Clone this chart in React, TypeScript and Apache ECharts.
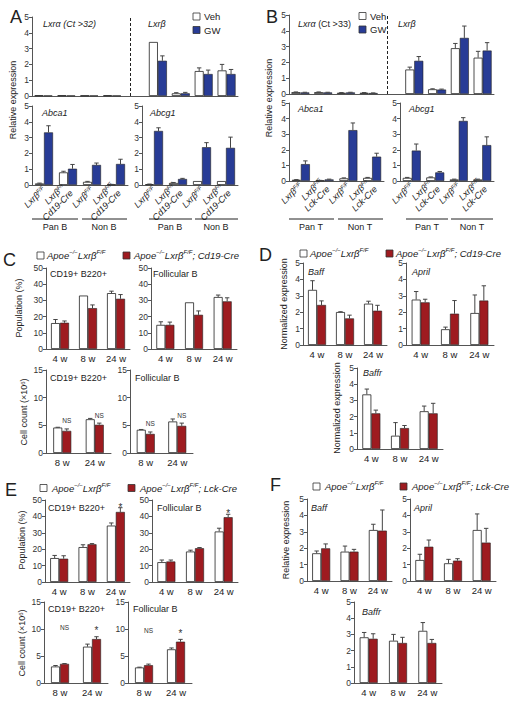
import React, { useEffect, useRef } from 'react';
import * as echarts from 'echarts';

const FONT = '"Liberation Sans", Arial, Helvetica, sans-serif';
const BLUE = '#283c96';
const RED = '#9e1b20';
const INK = '#222';

// ---------- Panel A (B cells, Veh vs GW) ----------
const aTopCats = ['Lxrα Pan B F/F', 'Lxrα Pan B Cd19-Cre', 'Lxrα Non B F/F', 'Lxrα Non B Cd19-Cre', '·', 'Lxrβ Pan B F/F', 'Lxrβ Pan B Cd19-Cre', 'Lxrβ Non B F/F', 'Lxrβ Non B Cd19-Cre'];
const aLxrVeh = [0.04, 0.04, 0.03, 0.04, null, 3.42, 0.17, 1.58, 1.62];
const aLxrVehErr = [0, 0, 0, 0, null, 0, 0.04, 0.2, 0.38];
const aLxrGw = [0.03, 0.03, 0.03, 0.03, null, 2.23, 0.17, 1.39, 1.39];
const aLxrGwErr = [0, 0, 0, 0, null, 0.31, 0.06, 0.25, 0.29];
const aBotCats = ['Lxrβ F/F|Pan B', 'Lxrβ F/F Cd19-Cre|Pan B', 'Lxrβ F/F|Non B', 'Lxrβ F/F Cd19-Cre|Non B'];
const aAbca1Veh = [0.1, 0.8, 0.2, 0.03];
const aAbca1VehErr = [0.02, 0.07, 0.03, 0.01];
const aAbca1Gw = [3.33, 1.03, 1.27, 1.33];
const aAbca1GwErr = [0.42, 0.27, 0.12, 0.3];
const aAbcg1Veh = [0.05, 0.13, 0.25, 0.25];
const aAbcg1VehErr = [0.01, 0.03, 0, 0];
const aAbcg1Gw = [3.42, 0.38, 2.39, 2.35];
const aAbcg1GwErr = [0.2, 0.04, 0.29, 0.68];

// ---------- Panel B (T cells, Veh vs GW) ----------
const bTopCats = ['Lxrα Pan T F/F', 'Lxrα Pan T Lck-Cre', 'Lxrα Non T F/F', 'Lxrα Non T Lck-Cre', '·', 'Lxrβ Pan T F/F', 'Lxrβ Pan T Lck-Cre', 'Lxrβ Non T F/F', 'Lxrβ Non T Lck-Cre'];
const bLxrVeh = [0.12, 0.12, 0.08, 0.08, null, 1.55, 0.3, 2.9, 2.3];
const bLxrVehErr = [0.01, 0.01, 0.01, 0.01, null, 0.15, 0.03, 0.3, 0.4];
const bLxrGw = [0.1, 0.1, 0.1, 0.06, null, 2.1, 0.28, 3.55, 2.75];
const bLxrGwErr = [0.01, 0.01, 0.01, 0.01, null, 0.27, 0.03, 0.75, 0.5];
const bBotCats = ['Lxrβ F/F|Pan T', 'Lxrβ F/F Lck-Cre|Pan T', 'Lxrβ F/F|Non T', 'Lxrβ F/F Lck-Cre|Non T'];
const bAbca1Veh = [0.08, 0.03, 0.17, 0.2];
const bAbca1VehErr = [0.01, 0.01, 0.03, 0.03];
const bAbca1Gw = [1.08, 0.1, 3.26, 1.56];
const bAbca1GwErr = [0.21, 0.02, 0.46, 0.22];
const bAbcg1Veh = [0.2, 0.23, 0.1, 0.1];
const bAbcg1VehErr = [0.03, 0.03, 0.02, 0.02];
const bAbcg1Gw = [1.95, 0.55, 3.85, 2.3];
const bAbcg1GwErr = [0.42, 0.06, 0.21, 0.53];

// ---------- Shared tick categories ----------
const weeks3 = ['4 w', '8 w', '24 w'];
const weeks2 = ['8 w', '24 w'];

// ---------- Panel C (Cd19-Cre, B cells) ----------
const cPopCdVeh = [16, 33, 34.5];
const cPopCdVehErr = [2.2, 0, 1.2];
const cPopCdCre = [16.2, 25.2, 31];
const cPopCdCreErr = [1.1, 2, 2.6];
const cPopFoVeh = [14.9, 28.8, 32.1];
const cPopFoVehErr = [1.9, 0, 1.2];
const cPopFoCre = [14.9, 21.1, 29.4];
const cPopFoCreErr = [1.7, 2.4, 2.2];
const cCntCdVeh = [4.6, 6.1];
const cCntCdVehErr = [0.05, 0.15];
const cCntCdCre = [4.0, 5.1];
const cCntCdCreErr = [0.35, 0.3];
const cCntFoVeh = [4.2, 5.7];
const cCntFoVehErr = [0.05, 0.45];
const cCntFoCre = [3.45, 4.9];
const cCntFoCreErr = [0.35, 0.5];
const cCntAnnot = ['NS', 'NS'];

// ---------- Panel D (Cd19-Cre, cytokines) ----------
const dBaffVeh = [3.36, 2.01, 2.52];
const dBaffVehErr = [0.56, 0.02, 0.15];
const dBaffCre = [2.44, 1.62, 2.09];
const dBaffCreErr = [0.25, 0.2, 0.33];
const dAprilVeh = [2.77, 0.96, 1.95];
const dAprilVehErr = [0.49, 0.13, 1.1];
const dAprilCre = [2.6, 1.91, 2.71];
const dAprilCreErr = [0.19, 0.8, 0.9];
const dBaffrVeh = [3.37, 0.82, 2.33];
const dBaffrVehErr = [0.33, 0.81, 0.32];
const dBaffrCre = [2.2, 1.29, 2.2];
const dBaffrCreErr = [0.2, 0.16, 0.62];

// ---------- Panel E (Lck-Cre, B cells) ----------
const ePopCdVeh = [14.6, 21.3, 34.4];
const ePopCdVehErr = [1.6, 1.4, 1.6];
const ePopCdCre = [14.2, 23.0, 42.7];
const ePopCdCreErr = [1.8, 0.4, 2.6];
const ePopFoVeh = [12.1, 18.6, 30.8];
const ePopFoVehErr = [1.3, 0.8, 2.0];
const ePopFoCre = [12.5, 20.6, 39.5];
const ePopFoCreErr = [0.9, 0.4, 1.8];
const ePopAnnot = [null, null, '*'];
const eCntCdVeh = [3.06, 6.73];
const eCntCdVehErr = [0.18, 0.47];
const eCntCdCre = [3.55, 8.14];
const eCntCdCreErr = [0.05, 0.43];
const eCntFoVeh = [2.88, 6.24];
const eCntFoVehErr = [0.05, 0.25];
const eCntFoCre = [3.3, 7.65];
const eCntFoCreErr = [0.2, 0.43];
const eCntAnnot = ['NS', '*'];

// ---------- Panel F (Lck-Cre, cytokines) ----------
const fBaffVeh = [1.69, 1.79, 3.11];
const fBaffVehErr = [0.14, 0.34, 0.35];
const fBaffCre = [1.99, 1.79, 3.07];
const fBaffCreErr = [0.27, 0.14, 1.26];
const fAprilVeh = [1.28, 1.08, 3.11];
const fAprilVehErr = [0.35, 0.24, 0.98];
const fAprilCre = [2.09, 1.24, 2.34];
const fAprilCreErr = [0.41, 0.12, 0.87];
const fBaffrVeh = [2.82, 2.61, 3.22];
const fBaffrVehErr = [0.3, 0.39, 0.51];
const fBaffrCre = [2.73, 2.47, 2.47];
const fBaffrCreErr = [0.31, 0.35, 0.22];

type Num = number | null;
type Panel = {
  grid: { left: number; top: number; width: number; height: number };
  cats: string[];
  max: number;
  interval: number;
  veh: Num[];
  vehErr: Num[];
  trt: Num[];
  trtErr: Num[];
  color: string;
  labels: 'none' | 'rot' | 'plain';
  gap?: boolean;
  annot?: (string | null)[];
  annotMode?: 'own' | 'max';
  annotGap?: number;
};

const panels: Panel[] = [
  { grid: { left: 32, top: 17, width: 206, height: 79 }, cats: aTopCats, max: 5, interval: 1, veh: aLxrVeh, vehErr: aLxrVehErr, trt: aLxrGw, trtErr: aLxrGwErr, color: BLUE, labels: 'none', gap: true },
  { grid: { left: 32, top: 106, width: 96, height: 79 }, cats: aBotCats, max: 5, interval: 1, veh: aAbca1Veh, vehErr: aAbca1VehErr, trt: aAbca1Gw, trtErr: aAbca1GwErr, color: BLUE, labels: 'rot' },
  { grid: { left: 142, top: 106, width: 96, height: 79 }, cats: aBotCats, max: 5, interval: 1, veh: aAbcg1Veh, vehErr: aAbcg1VehErr, trt: aAbcg1Gw, trtErr: aAbcg1GwErr, color: BLUE, labels: 'rot' },
  { grid: { left: 289, top: 15, width: 205, height: 79 }, cats: bTopCats, max: 5, interval: 1, veh: bLxrVeh, vehErr: bLxrVehErr, trt: bLxrGw, trtErr: bLxrGwErr, color: BLUE, labels: 'none', gap: true },
  { grid: { left: 289, top: 103, width: 95, height: 78 }, cats: bBotCats, max: 5, interval: 1, veh: bAbca1Veh, vehErr: bAbca1VehErr, trt: bAbca1Gw, trtErr: bAbca1GwErr, color: BLUE, labels: 'rot' },
  { grid: { left: 400, top: 103, width: 94, height: 78 }, cats: bBotCats, max: 5, interval: 1, veh: bAbcg1Veh, vehErr: bAbcg1VehErr, trt: bAbcg1Gw, trtErr: bAbcg1GwErr, color: BLUE, labels: 'rot' },

  { grid: { left: 46, top: 268, width: 84, height: 81 }, cats: weeks3, max: 50, interval: 10, veh: cPopCdVeh, vehErr: cPopCdVehErr, trt: cPopCdCre, trtErr: cPopCdCreErr, color: RED, labels: 'plain' },
  { grid: { left: 151, top: 268, width: 86, height: 81 }, cats: weeks3, max: 50, interval: 10, veh: cPopFoVeh, vehErr: cPopFoVehErr, trt: cPopFoCre, trtErr: cPopFoCreErr, color: RED, labels: 'plain' },
  { grid: { left: 46, top: 370, width: 65, height: 83 }, cats: weeks2, max: 15, interval: 5, veh: cCntCdVeh, vehErr: cCntCdVehErr, trt: cCntCdCre, trtErr: cCntCdCreErr, color: RED, labels: 'plain', annot: cCntAnnot, annotMode: 'own', annotGap: 8 },
  { grid: { left: 130, top: 370, width: 63, height: 83 }, cats: weeks2, max: 15, interval: 5, veh: cCntFoVeh, vehErr: cCntFoVehErr, trt: cCntFoCre, trtErr: cCntFoCreErr, color: RED, labels: 'plain', annot: cCntAnnot, annotMode: 'own', annotGap: 8 },

  { grid: { left: 303, top: 263, width: 84, height: 82 }, cats: weeks3, max: 5, interval: 1, veh: dBaffVeh, vehErr: dBaffVehErr, trt: dBaffCre, trtErr: dBaffCreErr, color: RED, labels: 'plain' },
  { grid: { left: 406, top: 263, width: 88, height: 82 }, cats: weeks3, max: 5, interval: 1, veh: dAprilVeh, vehErr: dAprilVehErr, trt: dAprilCre, trtErr: dAprilCreErr, color: RED, labels: 'plain' },
  { grid: { left: 357, top: 368, width: 86, height: 81 }, cats: weeks3, max: 5, interval: 1, veh: dBaffrVeh, vehErr: dBaffrVehErr, trt: dBaffrCre, trtErr: dBaffrCreErr, color: RED, labels: 'plain' },

  { grid: { left: 45, top: 500, width: 85, height: 82 }, cats: weeks3, max: 50, interval: 10, veh: ePopCdVeh, vehErr: ePopCdVehErr, trt: ePopCdCre, trtErr: ePopCdCreErr, color: RED, labels: 'plain', annot: ePopAnnot, annotMode: 'own', annotGap: 3 },
  { grid: { left: 152, top: 500, width: 86, height: 82 }, cats: weeks3, max: 50, interval: 10, veh: ePopFoVeh, vehErr: ePopFoVehErr, trt: ePopFoCre, trtErr: ePopFoCreErr, color: RED, labels: 'plain', annot: ePopAnnot, annotMode: 'own', annotGap: 3 },
  { grid: { left: 44, top: 602, width: 64, height: 81 }, cats: weeks2, max: 15, interval: 5, veh: eCntCdVeh, vehErr: eCntCdVehErr, trt: eCntCdCre, trtErr: eCntCdCreErr, color: RED, labels: 'plain', annot: eCntAnnot, annotMode: 'max', annotGap: 9 },
  { grid: { left: 128, top: 602, width: 64, height: 81 }, cats: weeks2, max: 15, interval: 5, veh: eCntFoVeh, vehErr: eCntFoVehErr, trt: eCntFoCre, trtErr: eCntFoCreErr, color: RED, labels: 'plain', annot: eCntAnnot, annotMode: 'max', annotGap: 9 },

  { grid: { left: 307, top: 499, width: 85, height: 82 }, cats: weeks3, max: 5, interval: 1, veh: fBaffVeh, vehErr: fBaffVehErr, trt: fBaffCre, trtErr: fBaffCreErr, color: RED, labels: 'plain' },
  { grid: { left: 410, top: 499, width: 86, height: 82 }, cats: weeks3, max: 5, interval: 1, veh: fAprilVeh, vehErr: fAprilVehErr, trt: fAprilCre, trtErr: fAprilCreErr, color: RED, labels: 'plain' },
  { grid: { left: 354, top: 602, width: 88, height: 81 }, cats: weeks3, max: 5, interval: 1, veh: fBaffrVeh, vehErr: fBaffrVehErr, trt: fBaffrCre, trtErr: fBaffrCreErr, color: RED, labels: 'plain' },
];

const BAR_W = 9;

const richLbl = {
  i: { fontStyle: 'italic', fontSize: 9, fontFamily: FONT, color: INK, lineHeight: 10 },
  s: { fontStyle: 'italic', fontSize: 5.5, fontFamily: FONT, color: INK, verticalAlign: 'top', lineHeight: 6 },
};

function rotLabel(v: string) {
  const name = v.split('|')[0];
  if (name.indexOf('Cre') >= 0) {
    const cre = name.indexOf('Lck') >= 0 ? 'Lck-Cre' : 'Cd19-Cre';
    return '{i|Lxrβ}{s|F/F}\n{i|' + cre + '}';
  }
  return '{i|Lxrβ}{s|F/F}';
}

function errSeries(i: number, p: Panel, vals: Num[], errs: Num[], side: number, annot?: (string | null)[]) {
  let maxTop = 0;
  vals.forEach((v, k) => {
    if (v != null) maxTop = Math.max(maxTop, v + (errs[k] || 0));
  });
  const data = vals.map((v, k) => [k, v == null ? 0 : v, errs[k] == null ? 0 : (errs[k] as number)]);
  return {
    type: 'custom',
    xAxisIndex: i,
    yAxisIndex: i,
    z: 5,
    silent: true,
    data,
    encode: { x: 0, y: 1 },
    renderItem: (params: any, api: any) => {
      const idx = params.dataIndex;
      if (vals[idx] == null) return null;
      const k = api.value(0);
      const v = api.value(1);
      const e = api.value(2);
      const base = api.coord([k, v]);
      const top = api.coord([k, v + e]);
      const x = base[0] + (side * BAR_W) / 2;
      const children: any[] = [];
      if (e > 0) {
        children.push({ type: 'line', shape: { x1: x, y1: base[1], x2: x, y2: top[1] }, style: { stroke: '#444', lineWidth: 1 } });
        children.push({ type: 'line', shape: { x1: x - 2.2, y1: top[1], x2: x + 2.2, y2: top[1] }, style: { stroke: '#444', lineWidth: 1 } });
      }
      const a = annot ? annot[idx] : null;
      if (a) {
        const refY = p.annotMode === 'max' ? api.coord([k, maxTop])[1] : top[1];
        const star = a === '*';
        const y = refY - (p.annotGap || 6) + (star ? 2.7 : 0);
        children.push({
          type: 'text',
          x,
          y,
          style: {
            text: a, fill: '#333', fontSize: star ? 10 : 6.5, fontFamily: FONT,
            align: 'center', verticalAlign: 'middle', textAlign: 'center', textVerticalAlign: 'middle',
          },
        });
      }
      return { type: 'group', children };
    },
  };
}

function buildOption() {
  const grid: any[] = [];
  const xAxis: any[] = [];
  const yAxis: any[] = [];
  const series: any[] = [];
  panels.forEach((p, i) => {
    grid.push({ ...p.grid, containLabel: false });
    let axisLabel: any;
    if (p.labels === 'none') axisLabel = { show: false };
    else if (p.labels === 'rot') axisLabel = { show: true, rotate: 45, margin: 3, interval: 0, formatter: rotLabel, rich: richLbl, fontSize: 9, fontFamily: FONT, color: INK };
    else axisLabel = { show: true, margin: 4, interval: 0, fontSize: 9.5, fontFamily: FONT, color: INK };
    xAxis.push({
      type: 'category', gridIndex: i, data: p.cats,
      axisLine: { show: true, lineStyle: { color: '#555', width: 1 } },
      axisTick: { show: false }, axisLabel, splitLine: { show: false },
    });
    yAxis.push({
      type: 'value', gridIndex: i, min: 0, max: p.max, interval: p.interval,
      axisLine: { show: true, lineStyle: { color: '#555', width: 1 } },
      axisTick: { show: true, length: 3, lineStyle: { color: '#555' } },
      axisLabel: { fontSize: 8.5, color: '#333', margin: 3, fontFamily: FONT },
      splitLine: { show: false },
    });
    const vehBar: any = {
      type: 'bar', xAxisIndex: i, yAxisIndex: i, data: p.veh, barWidth: BAR_W, barGap: '0%', silent: true,
      itemStyle: { color: '#fff', borderColor: '#222', borderWidth: 0.8 },
    };
    if (p.gap) {
      vehBar.markLine = {
        silent: true, symbol: 'none', label: { show: false },
        lineStyle: { type: [3, 2], color: '#222', width: 1 },
        data: [{ xAxis: '·' }],
      };
    }
    series.push(vehBar);
    series.push({
      type: 'bar', xAxisIndex: i, yAxisIndex: i, data: p.trt, barWidth: BAR_W, barGap: '0%', silent: true,
      itemStyle: { color: p.color, borderColor: '#222', borderWidth: 0.6 },
    });
    series.push(errSeries(i, p, p.veh, p.vehErr, -1));
    series.push(errSeries(i, p, p.trt, p.trtErr, 1, p.annot));
  });

  const richT = {
    i: { fontStyle: 'italic', fontSize: 9.5, fontFamily: FONT, color: INK, lineHeight: 13 },
    n: { fontStyle: 'normal', fontSize: 9.5, fontFamily: FONT, color: INK, lineHeight: 13 },
    s: { fontStyle: 'italic', fontSize: 6, fontFamily: FONT, color: INK, verticalAlign: 'top', lineHeight: 7 },
    ns: { fontStyle: 'normal', fontSize: 6, fontFamily: FONT, color: INK, verticalAlign: 'top', lineHeight: 7 },
  };
  const txt = (x: number, y: number, text: string, o: any = {}) => ({
    type: 'text', x, y, rotation: o.rot || 0, silent: true,
    style: {
      text, fill: INK, fontSize: o.size || 9, fontFamily: FONT, fontStyle: o.italic ? 'italic' : 'normal',
      align: o.align || 'left', verticalAlign: 'middle', textAlign: o.align || 'left', textVerticalAlign: 'middle',
      rich: o.rich,
    },
  });
  const box = (x: number, y: number, fill: string) => ({
    type: 'rect', silent: true, shape: { x, y, width: 7, height: 7 },
    style: { fill, stroke: '#333', lineWidth: 0.8 },
  });
  const hline = (x1: number, x2: number, y: number) => ({
    type: 'line', silent: true, shape: { x1, y1: y, x2, y2: y }, style: { stroke: INK, lineWidth: 1 },
  });
  const ctrl = '{i|Apoe}{s|−/−}{i|Lxrβ}{s|F/F}';
  const cre = (c: string) => '{i|Apoe}{s|−/−}{i|Lxrβ}{s|F/F}{i|; ' + c + '}';
  const rot = Math.PI / 2;

  const graphic: any[] = [
    // panel letters
    txt(10, 16.5, 'A', { size: 18 }),
    txt(266, 16.5, 'B', { size: 18 }),
    txt(3, 260, 'C', { size: 18 }),
    txt(259, 254.5, 'D', { size: 18 }),
    txt(5, 490, 'E', { size: 18 }),
    txt(270, 484.5, 'F', { size: 18 }),
    // legends A / B
    box(193, 13, '#fff'), txt(204, 16.5, 'Veh', { size: 9.5 }),
    box(193, 26.5, BLUE), txt(204, 30, 'GW', { size: 9.5 }),
    box(359, 12.5, '#fff'), txt(370, 16, 'Veh', { size: 9.5 }),
    box(359, 26, BLUE), txt(370, 29.5, 'GW', { size: 9.5 }),
    // gene titles A
    txt(43, 24, 'Lxrα (Ct >32)', { italic: true }),
    txt(148, 24, 'Lxrβ', { italic: true }),
    txt(42, 113, 'Abca1', { italic: true }),
    txt(150, 113, 'Abcg1', { italic: true }),
    // gene titles B
    txt(298, 24, '{i9|Lxrα} (Ct >33)', { rich: { i9: { fontStyle: 'italic', fontSize: 9, fontFamily: FONT, color: INK } } }),
    txt(398, 24, 'Lxrβ', { italic: true }),
    txt(298, 109, 'Abca1', { italic: true }),
    txt(409, 109, 'Abcg1', { italic: true }),
    // group brackets A
    hline(32, 78, 219), hline(82, 127, 219), hline(149, 192, 219), hline(195, 238, 219),
    txt(55, 227, 'Pan B', { align: 'center' }), txt(104, 227, 'Non B', { align: 'center' }),
    txt(170, 227, 'Pan B', { align: 'center' }), txt(216, 227, 'Non B', { align: 'center' }),
    // group brackets B
    hline(289, 334, 219), hline(338, 383, 219), hline(406, 448, 219), hline(451, 493, 219),
    txt(311, 227, 'Pan T', { align: 'center' }), txt(360, 227, 'Non T', { align: 'center' }),
    txt(427, 227, 'Pan T', { align: 'center' }), txt(472, 227, 'Non T', { align: 'center' }),
    // y titles A, B
    txt(13, 100, 'Relative expression', { rot, align: 'center' }),
    txt(269, 98, 'Relative expression', { rot, align: 'center' }),
    // legend C
    box(37, 252, '#fff'), txt(47, 255.5, ctrl, { rich: richT }),
    box(123, 252, RED), txt(134, 255.5, cre('Cd19-Cre'), { rich: richT }),
    txt(50, 274, 'CD19+ B220+'), txt(153, 274, 'Follicular B'),
    txt(50, 378, 'CD19+ B220+'), txt(135, 378, 'Follicular B'),
    txt(19, 308, 'Population (%)', { rot, align: 'center' }),
    txt(24, 412, 'Cell count (×10{n6|6})', { rot, align: 'center', rich: { n6: { fontSize: 6, fontFamily: FONT, color: INK, verticalAlign: 'top', lineHeight: 7 } } }),
    // legend D
    box(300, 250, '#fff'), txt(310, 253.5, ctrl, { rich: richT }),
    box(386, 250, RED), txt(396, 253.5, cre('Cd19-Cre'), { rich: richT }),
    txt(308, 272, 'Baff', { italic: true }), txt(412, 272, 'April', { italic: true }),
    txt(363, 373, 'Baffr', { italic: true }),
    txt(284, 304, 'Normalized expression', { rot, align: 'center' }),
    txt(337, 408, 'Normalized expression', { rot, align: 'center' }),
    // legend E
    box(40, 484.5, '#fff'), txt(52, 488, ctrl, { rich: richT }),
    box(128, 484.5, RED), txt(140, 488, cre('Lck-Cre'), { rich: richT }),
    txt(48, 508, 'CD19+ B220+'), txt(157, 508, 'Follicular B'),
    txt(48, 609, 'CD19+ B220+'), txt(133, 609, 'Follicular B'),
    txt(22, 540, 'Population (%)', { rot, align: 'center' }),
    txt(22, 643, 'Cell count (×10{n6|6})', { rot, align: 'center', rich: { n6: { fontSize: 6, fontFamily: FONT, color: INK, verticalAlign: 'top', lineHeight: 7 } } }),
    // legend F
    box(313, 483, '#fff'), txt(325, 486.5, ctrl, { rich: richT }),
    box(400, 483, RED), txt(412, 486.5, cre('Lck-Cre'), { rich: richT }),
    txt(311, 508, 'Baff', { italic: true }), txt(414, 508, 'April', { italic: true }),
    txt(362, 612, 'Baffr', { italic: true }),
    txt(286, 540, 'Relative expression', { rot, align: 'center' }),
  ];

  return {
    animation: false,
    backgroundColor: '#fff',
    textStyle: { fontFamily: FONT },
    grid, xAxis, yAxis, series, graphic,
  };
}

export default function App() {
  const ref = useRef<HTMLDivElement>(null);
  useEffect(() => {
    if (!ref.current) return;
    const chart = echarts.init(ref.current, undefined, { renderer: 'svg' });
    chart.setOption(buildOption() as any);
    return () => chart.dispose();
  }, []);
  return (
    <div
      ref={ref}
      style={{ position: 'absolute', left: 0, top: 0, width: 512, height: 703, background: '#fff' }}
    />
  );
}
